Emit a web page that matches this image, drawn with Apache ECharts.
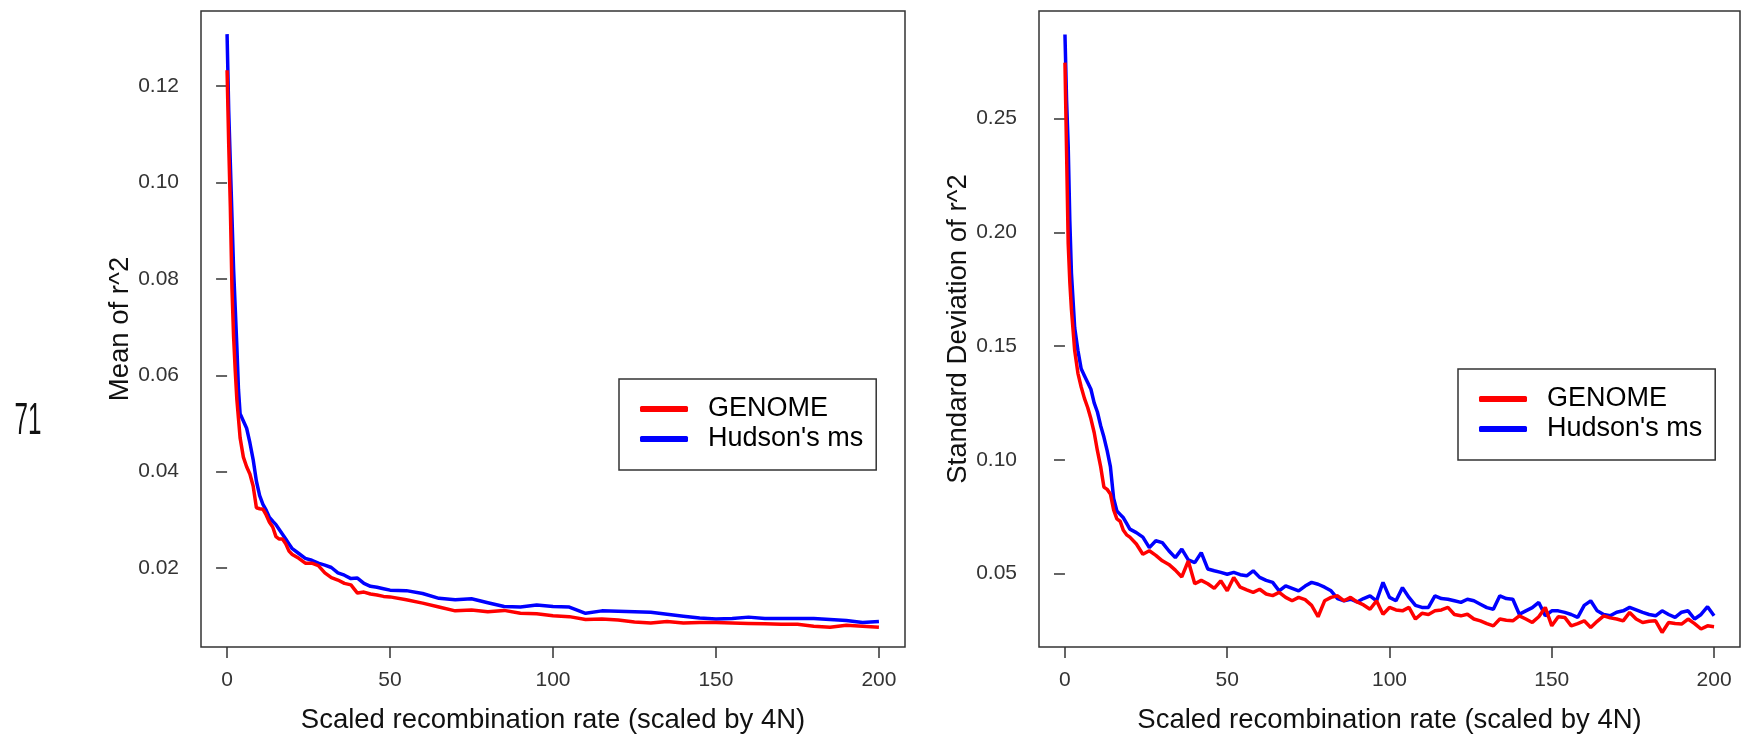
<!DOCTYPE html>
<html>
<head>
<meta charset="utf-8">
<script src="https://cdn.jsdelivr.net/npm/echarts@6/dist/echarts.min.js"></script>
<style>
html,body{margin:0;padding:0;background:#fff;}
#chart{width:1746px;height:743px;}
</style>
</head>
<body>
<div id="chart"></div>
<script>
// ---------- data ----------
const seriesNames = ['GENOME', "Hudson's ms"];
const xTicks = [0, 50, 100, 150, 200];
const meanYTicks = [0.02, 0.04, 0.06, 0.08, 0.10, 0.12];
const sdYTicks = [0.05, 0.10, 0.15, 0.20, 0.25];
const xTitle = 'Scaled recombination rate (scaled by 4N)';
const meanTitle = 'Mean of r^2';
const sdTitle = 'Standard Deviation of r^2';
const pageNumber = '71';

const meanX = [0,0.5,1,1.5,2,2.5,3,3.5,4,5,6,7,8,9,10,11,12,13,14,15,16,17,18,19,20,
  22,24,26,28,30,32,34,36,38,40,42,44,46,48,50,
  55,60,65,70,75,80,85,90,95,100,105,110,115,120,125,130,135,140,145,150,155,160,165,170,175,180,185,190,195,200];
const meanGenome = [0.1233,0.108,0.095,0.078,0.068,0.061,0.055,0.051,0.047,0.043,0.041,0.0395,0.037,0.0325,0.0323,0.0322,0.031,0.0295,0.0285,0.0265,0.026,0.026,0.025,0.0235,0.0228,
  0.022,0.021,0.021,0.0205,0.019,0.018,0.0175,0.0168,0.0165,0.0148,0.015,0.0146,0.0144,0.0141,0.014,
  0.0134,0.0127,0.0119,0.0111,0.0113,0.0109,0.0112,0.0106,0.0105,0.0101,0.0099,0.0093,0.0094,0.0092,0.0088,0.0086,0.0089,0.0086,0.0087,0.0087,0.0086,0.0085,0.0084,0.0083,0.0083,0.0079,0.0077,0.0081,0.0079,0.0077];
const meanHudson = [0.1308,0.115,0.104,0.093,0.082,0.074,0.066,0.057,0.052,0.0505,0.049,0.046,0.0425,0.038,0.035,0.0332,0.032,0.0305,0.0297,0.029,0.028,0.027,0.026,0.025,0.024,
  0.023,0.022,0.0216,0.021,0.0206,0.0201,0.019,0.0185,0.0178,0.0179,0.0168,0.0162,0.016,0.0157,0.0154,
  0.0153,0.0147,0.0137,0.0134,0.0136,0.0128,0.012,0.0119,0.0123,0.012,0.0119,0.0106,0.0111,0.011,0.0109,0.0108,0.0104,0.01,0.0096,0.0094,0.0095,0.0098,0.0095,0.0095,0.0095,0.0095,0.0093,0.0091,0.0087,0.0089];

const sdX = [0,0.5,1,1.5,2,3,4,5,6,7,8,9,10,11,12,13,14,15,16,17,18,19,20,
  22,24,26,28,30,32,34,36,38,40,42,44,46,48,50,52,54,56,58,60,62,64,66,68,70,72,74,76,78,80,
  82,84,86,88,90,92,94,96,98,100,102,104,106,108,110,112,114,116,118,120,122,124,126,128,130,
  132,134,136,138,140,142,144,146,148,150,152,154,156,158,160,162,164,166,168,170,172,174,176,178,180,
  182,184,186,188,190,192,194,196,198,200];
const sdGenome = [0.2746,0.235,0.195,0.178,0.166,0.148,0.138,0.132,0.127,0.123,0.118,0.112,0.104,0.097,0.088,0.087,0.085,0.078,0.074,0.073,0.069,0.067,0.066,
  0.063,0.0585,0.06,0.058,0.0556,0.054,0.0515,0.0485,0.0555,0.0455,0.047,0.0455,0.0435,0.0468,0.0424,0.0483,0.044,0.0428,0.0417,0.0431,0.041,0.0403,0.0417,0.0395,0.038,0.0395,0.0385,0.036,0.031,0.038,
  0.0395,0.0402,0.038,0.0395,0.0375,0.0362,0.0343,0.038,0.0321,0.0351,0.034,0.0336,0.0351,0.030,0.0325,0.032,0.0336,0.034,0.0351,0.032,0.0314,0.0321,0.030,0.0292,0.028,
  0.027,0.030,0.0295,0.0292,0.0314,0.030,0.0285,0.031,0.0351,0.027,0.031,0.0307,0.027,0.028,0.0292,0.0263,0.029,0.0314,0.0305,0.030,0.0292,0.0329,0.030,0.0285,0.029,
  0.0292,0.0241,0.0285,0.028,0.0278,0.030,0.028,0.0256,0.027,0.0266];
const sdHudson = [0.287,0.258,0.2378,0.205,0.182,0.158,0.148,0.140,0.137,0.134,0.131,0.125,0.121,0.115,0.110,0.104,0.097,0.083,0.0775,0.076,0.0745,0.072,0.0695,
  0.068,0.066,0.0614,0.0644,0.0636,0.060,0.057,0.0607,0.056,0.0548,0.0592,0.052,0.0512,0.0505,0.0497,0.0505,0.0495,0.049,0.0512,0.0483,0.047,0.0461,0.0424,0.0446,0.0435,0.0424,0.0445,0.0461,0.0453,0.044,
  0.0424,0.039,0.038,0.0387,0.0375,0.039,0.0402,0.038,0.0461,0.0395,0.038,0.0438,0.0395,0.036,0.0351,0.0351,0.0402,0.039,0.0387,0.038,0.0373,0.0387,0.038,0.0365,0.035,
  0.0343,0.0402,0.039,0.0387,0.0321,0.0336,0.035,0.0373,0.0314,0.0336,0.0336,0.0329,0.032,0.0307,0.036,0.038,0.0336,0.032,0.0314,0.033,0.0336,0.0351,0.034,0.0329,0.032,
  0.0314,0.0336,0.032,0.0307,0.033,0.0336,0.030,0.032,0.0354,0.0314];

// ---------- chart ----------
const FONT = "'Liberation Sans', Arial, Helvetica, sans-serif";
const RED = '#ff0000', BLUE = '#0000ff';
const zip = (xs, ys) => xs.map((x, i) => [x, ys[i]]);

function xAxisCfg(gridIndex) {
  return {
    type: 'value', gridIndex, min: -8, max: 208,
    name: xTitle, nameLocation: 'middle', nameGap: 59,
    nameTextStyle: { fontFamily: FONT, fontSize: 27.5, color: '#111' },
    axisLine: { show: false },
    splitLine: { show: false },
    axisTick: { show: true, inside: false, length: 11, customValues: xTicks, lineStyle: { color: '#333', width: 1.5 } },
    axisLabel: { show: true, customValues: xTicks, margin: 23, fontFamily: FONT, fontSize: 21, color: '#333' }
  };
}
function yAxisCfg(gridIndex, min, max, ticks, name) {
  return {
    type: 'value', gridIndex, min, max,
    name, nameLocation: 'middle', nameGap: 61,
    nameTextStyle: { fontFamily: FONT, fontSize: 27.5, color: '#111' },
    axisLine: { show: false },
    splitLine: { show: false },
    axisTick: { show: true, length: 11, customValues: ticks, lineStyle: { color: '#333', width: 1.5 } },
    axisLabel: { show: true, customValues: ticks, margin: 22, fontFamily: FONT, fontSize: 21, color: '#333',
      formatter: v => Number(v).toFixed(2) }
  };
}
function legendCfg(left, top) {
  return {
    show: true, orient: 'vertical', left, top,
    data: seriesNames,
    icon: 'roundRect', itemWidth: 48, itemHeight: 6, itemGap: 0,
    padding: [15, 13, 16, 21],
    borderColor: '#333', borderWidth: 1.5, backgroundColor: '#fff',
    selectedMode: false,
    textStyle: { fontFamily: FONT, fontSize: 27, color: '#000', lineHeight: 30, padding: [0, 0, 0, 15] }
  };
}
function lineSeries(name, color, xi, data) {
  return {
    name, type: 'line', xAxisIndex: xi, yAxisIndex: xi,
    data, showSymbol: false, symbol: 'none', clip: true,
    lineStyle: { color, width: 3.5 }, itemStyle: { color },
    emphasis: { disabled: true }, z: name === 'GENOME' ? 3 : 2
  };
}

const chart = echarts.init(document.getElementById('chart'), null, { renderer: 'canvas' });
chart.setOption({
  animation: false,
  backgroundColor: '#fff',
  grid: [
    { left: 201, top: 11, width: 704, height: 636, show: true, borderColor: '#333', borderWidth: 1.5, backgroundColor: 'transparent' },
    { left: 1039, top: 11, width: 701, height: 636, show: true, borderColor: '#333', borderWidth: 1.5, backgroundColor: 'transparent' }
  ],
  xAxis: [xAxisCfg(0), xAxisCfg(1)],
  yAxis: [
    yAxisCfg(0, 0.0036, 0.1356, meanYTicks, meanTitle),
    yAxisCfg(1, 0.0177, 0.2973, sdYTicks, sdTitle)
  ],
  legend: [legendCfg(619, 379), legendCfg(1458, 369)],
  series: [
    lineSeries(seriesNames[1], BLUE, 0, zip(meanX, meanHudson)),
    lineSeries(seriesNames[0], RED, 0, zip(meanX, meanGenome)),
    lineSeries(seriesNames[1], BLUE, 1, zip(sdX, sdHudson)),
    lineSeries(seriesNames[0], RED, 1, zip(sdX, sdGenome))
  ],
  graphic: [{
    type: 'text', x: 28, y: 422,
    scaleX: 0.55, scaleY: 1,
    style: { text: pageNumber, fontFamily: FONT, fontSize: 44, fill: '#111', align: 'center', verticalAlign: 'middle' }
  }]
});
</script>
</body>
</html>
